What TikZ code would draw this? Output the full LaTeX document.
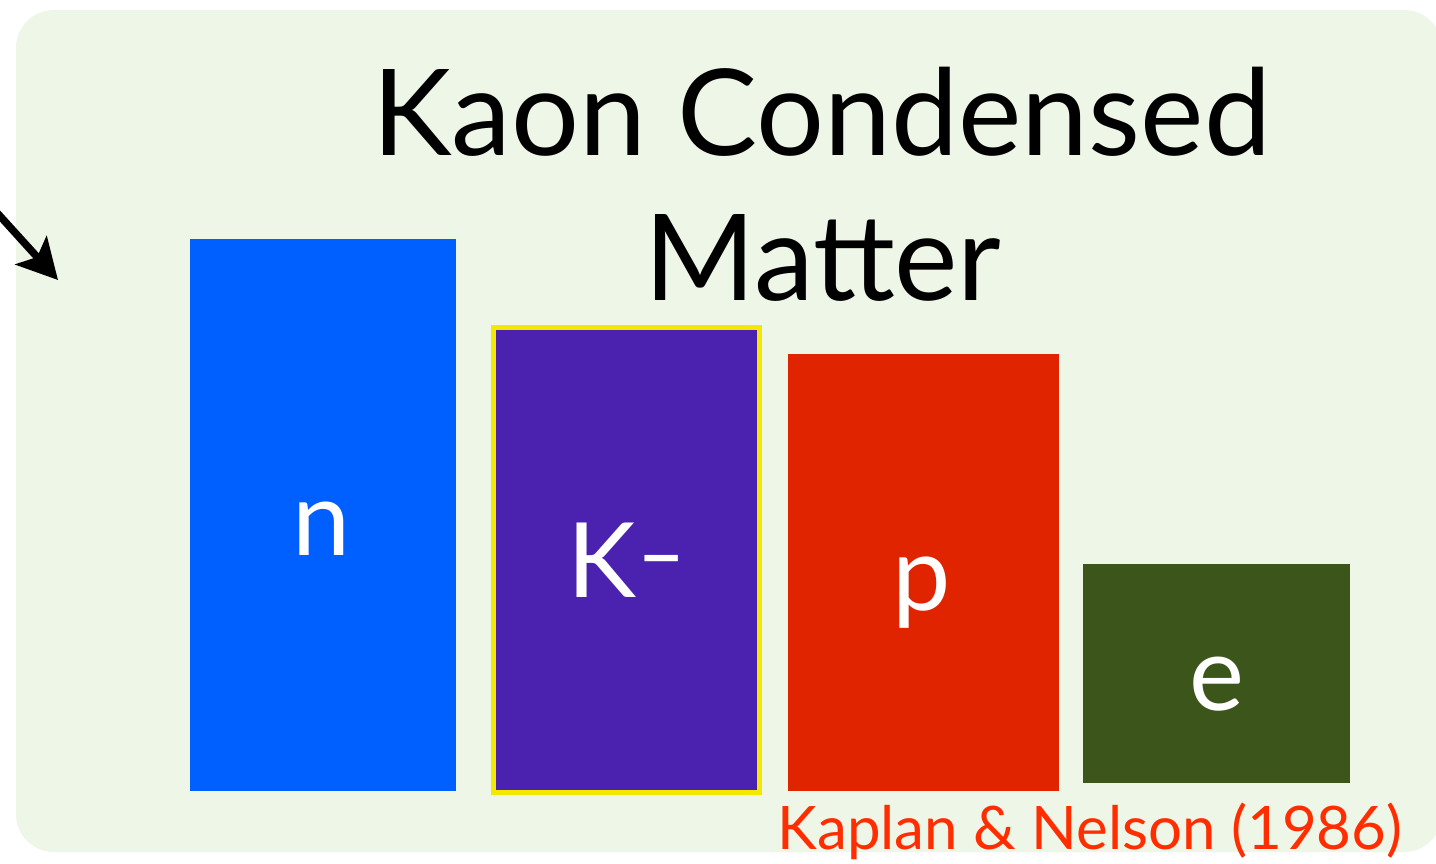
\documentclass[tikz,border=0pt]{standalone}
\usepackage{fontspec}
\setmainfont{Lato}
\usetikzlibrary{arrows.meta}
\definecolor{bgc}{HTML}{EEF6E7}
\definecolor{nblue}{HTML}{005FFF}
\definecolor{kpurple}{HTML}{4B21AF}
\definecolor{kyellow}{HTML}{F5E800}
\definecolor{pred}{HTML}{E12400}
\definecolor{egreen}{HTML}{3B551A}
\definecolor{refred}{HTML}{FF2D00}
\tikzset{
  bar/.style={inner sep=0pt, outer sep=0pt, draw=none},
  barlabel/.style={text=white, font=\fontsize{104}{120}\selectfont, anchor=base},
  title/.style={font=\fontsize{120}{140}\selectfont, anchor=base, text=black},
}
\begin{document}
\begin{tikzpicture}[x=1pt,y=-1pt]
\clip (0,0) rectangle (1436,863);
\fill[white] (0,0) rectangle (1436,863);
\fill[bgc, rounded corners=38pt] (16,10) rectangle (1442,852);
% bars
\fill[nblue] (190,239) rectangle (456,791);
\node[bar] (n) at (323,515) {};
\draw[kyellow, line width=5pt, fill=kpurple] (493.5,327.5) rectangle (759.5,792.5);
\node[bar] (k) at (626,560) {};
\fill[pred] (788,354) rectangle (1059,791);
\node[bar] (p) at (923,572) {};
\fill[egreen] (1083,564) rectangle (1350,783);
\node[bar] (e) at (1216,673) {};
% labels
\node[barlabel] at (322,555) {n};
\node[barlabel] at (627,597) {K\raisebox{14pt}{\scalebox{1.3}[0.8]{-}}};
\node[barlabel] at (922,610) {p};
\node[barlabel] at (1217,710) {e};
% title
\node[title] (t1) at (822,155) {Kaon Condensed};
\node[title] (t2) at (823,300) {Matter};
% reference
\node[anchor=base, text=refred, font=\fontsize{60}{70}\selectfont] (ref) at (1090,849) {Kaplan \& Nelson (1986)};
% arrow
\coordinate (a0) at (-20,194);
\coordinate (a1) at (58,280);
\draw[line width=7.5pt, -{Stealth[length=40pt,width=42pt,inset=9pt]}] (a0) -- (a1);
\end{tikzpicture}
\end{document}
